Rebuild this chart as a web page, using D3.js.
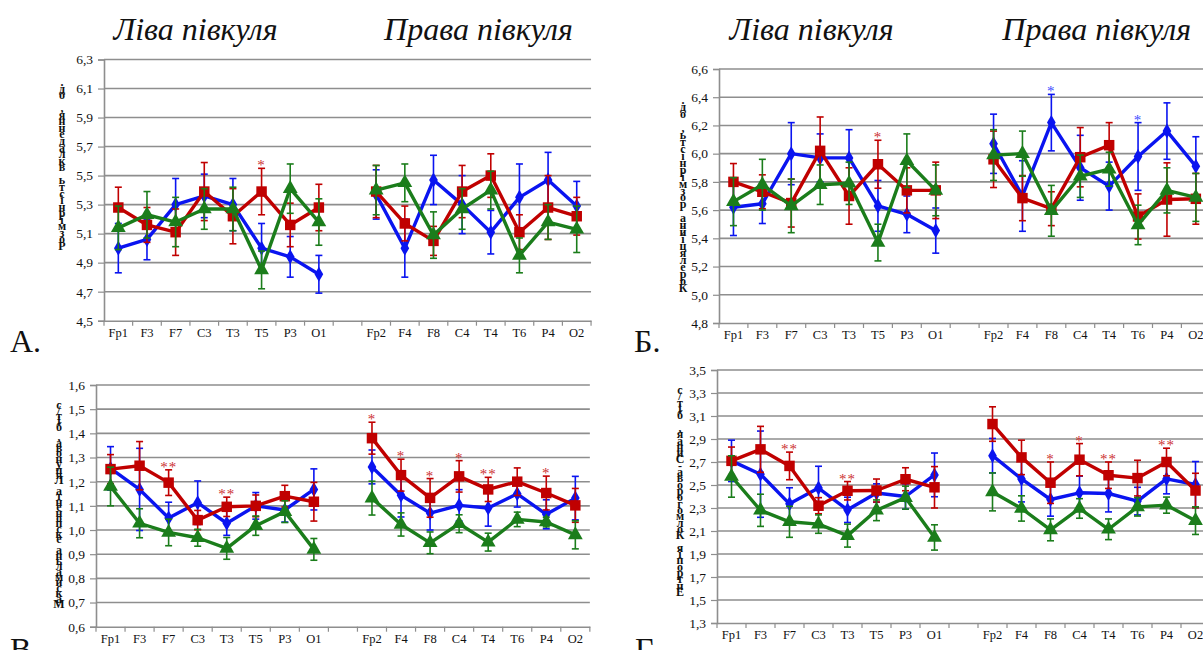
<!DOCTYPE html>
<html>
<head>
<meta charset="utf-8">
<script src="https://cdn.jsdelivr.net/npm/d3@7"></script>
<style>
  body { margin: 0; background: #fff; }
  svg { display: block; }
  text { font-family: "Liberation Serif", "Times New Roman", "DejaVu Serif", serif; }
</style>
</head>
<body>
<div id="chart"></div>
<script>
(function() {
  var width = 1203,
      height = 650;

  // electrode leads, left hemisphere then right, one empty slot between them
  const leftLeads = ["Fp1", "F3", "F7", "C3", "T3", "T5", "P3", "O1"];
  const rightLeads = ["Fp2", "F4", "F8", "C4", "T4", "T6", "P4", "O2"];
  const slotLabels = leftLeads.concat([""], rightLeads);

  const hemiTitles = ["Ліва півкуля", "Права півкуля"];

  // A. embedding dimension
  const aBlue = [5.00, 5.06, 5.30, 5.36, 5.30, 5.00, 4.94, 4.82, 5.37, 5.00, 5.47, 5.30, 5.11, 5.35, 5.47, 5.29];
  const aBlueErr = [0.17, 0.14, 0.18, 0.15, 0.18, 0.17, 0.14, 0.13, 0.17, 0.20, 0.17, 0.20, 0.15, 0.23, 0.19, 0.17];
  const aRed = [5.28, 5.16, 5.11, 5.39, 5.22, 5.39, 5.16, 5.28, 5.39, 5.17, 5.05, 5.39, 5.50, 5.11, 5.28, 5.22];
  const aRedErr = [0.14, 0.12, 0.16, 0.20, 0.19, 0.16, 0.15, 0.16, 0.18, 0.12, 0.10, 0.18, 0.15, 0.12, 0.22, 0.13];
  const aGreen = [5.14, 5.23, 5.18, 5.27, 5.27, 4.85, 5.41, 5.18, 5.40, 5.45, 5.09, 5.27, 5.40, 4.95, 5.18, 5.13];
  const aGreenErr = [0.15, 0.16, 0.17, 0.14, 0.15, 0.13, 0.17, 0.16, 0.17, 0.13, 0.16, 0.14, 0.13, 0.12, 0.12, 0.16];
  const aStars = [{i: 5, s: "*", series: "red"}];

  // Б. correlation dimension
  const bBlue = [5.62, 5.645, 6.00, 5.97, 5.97, 5.63, 5.57, 5.455, 6.07, 5.70, 6.22, 5.90, 5.77, 5.98, 6.16, 5.91];
  const bBlueErr = [0.20, 0.14, 0.22, 0.17, 0.20, 0.18, 0.13, 0.16, 0.21, 0.25, 0.20, 0.23, 0.17, 0.24, 0.20, 0.21];
  const bRed = [5.80, 5.73, 5.65, 6.02, 5.70, 5.925, 5.74, 5.74, 5.96, 5.685, 5.61, 5.975, 6.06, 5.555, 5.675, 5.68];
  const bRedErr = [0.13, 0.12, 0.17, 0.24, 0.20, 0.17, 0.16, 0.20, 0.20, 0.16, 0.12, 0.21, 0.16, 0.16, 0.26, 0.18];
  const bGreen = [5.66, 5.78, 5.63, 5.78, 5.79, 5.37, 5.95, 5.74, 5.99, 6.00, 5.595, 5.84, 5.89, 5.495, 5.74, 5.69];
  const bGreenErr = [0.17, 0.18, 0.19, 0.14, 0.15, 0.13, 0.19, 0.18, 0.18, 0.16, 0.18, 0.15, 0.12, 0.14, 0.16, 0.17];
  const bStars = [{i: 5, s: "*", series: "red"}, {i: 10, s: "*", series: "blue"}, {i: 13, s: "*", series: "blue"}];

  // В. max Lyapunov exponent
  const cBlue = [1.255, 1.168, 1.05, 1.113, 1.028, 1.10, 1.083, 1.168, 1.261, 1.144, 1.07, 1.102, 1.091, 1.15, 1.065, 1.132];
  const cBlueErr = [0.09, 0.17, 0.065, 0.09, 0.05, 0.055, 0.05, 0.085, 0.07, 0.09, 0.07, 0.065, 0.075, 0.055, 0.06, 0.09];
  const cRed = [1.252, 1.266, 1.196, 1.041, 1.096, 1.10, 1.14, 1.117, 1.38, 1.227, 1.133, 1.222, 1.168, 1.20, 1.153, 1.102];
  const cRedErr = [0.06, 0.10, 0.053, 0.04, 0.04, 0.045, 0.045, 0.08, 0.066, 0.066, 0.08, 0.065, 0.05, 0.057, 0.07, 0.07];
  const cGreen = [1.18, 1.028, 0.99, 0.968, 0.924, 1.018, 1.076, 0.92, 1.132, 1.023, 0.947, 1.026, 0.95, 1.044, 1.033, 0.98];
  const cGreenErr = [0.08, 0.06, 0.055, 0.035, 0.045, 0.04, 0.045, 0.045, 0.07, 0.048, 0.045, 0.037, 0.037, 0.03, 0.02, 0.058];
  const cStars = [{i: 2, s: "**", series: "red"}, {i: 4, s: "**", series: "red"}, {i: 8, s: "*", series: "red"},
                  {i: 9, s: "*", series: "red"}, {i: 10, s: "*", series: "red"}, {i: 11, s: "*", series: "red"},
                  {i: 12, s: "**", series: "red"}, {i: 14, s: "*", series: "red"}];

  // Г. Kolmogorov-Sinai entropy
  const dBlue = [2.71, 2.594, 2.336, 2.473, 2.284, 2.43, 2.40, 2.588, 2.755, 2.553, 2.374, 2.432, 2.426, 2.36, 2.553, 2.504];
  const dBlueErr = [0.18, 0.375, 0.14, 0.19, 0.11, 0.08, 0.11, 0.19, 0.15, 0.20, 0.145, 0.145, 0.16, 0.12, 0.13, 0.20];
  const dRed = [2.71, 2.81, 2.666, 2.32, 2.45, 2.452, 2.55, 2.48, 3.03, 2.74, 2.52, 2.72, 2.585, 2.56, 2.70, 2.452];
  const dRedErr = [0.12, 0.20, 0.12, 0.07, 0.08, 0.10, 0.10, 0.18, 0.15, 0.15, 0.18, 0.14, 0.115, 0.155, 0.12, 0.15];
  const dGreen = [2.574, 2.28, 2.18, 2.16, 2.06, 2.28, 2.39, 2.044, 2.44, 2.296, 2.11, 2.296, 2.115, 2.31, 2.325, 2.19];
  const dGreenErr = [0.18, 0.14, 0.135, 0.08, 0.10, 0.09, 0.10, 0.11, 0.165, 0.11, 0.095, 0.085, 0.09, 0.08, 0.07, 0.12];
  const dStars = [{i: 2, s: "**", series: "red"}, {i: 4, s: "**", series: "red"}, {i: 10, s: "*", series: "red"},
                  {i: 11, s: "*", series: "red"}, {i: 12, s: "**", series: "red"}, {i: 14, s: "**", series: "red"}];

  const colors = {blue: "#0a14f0", red: "#c00000", green: "#1b7d1b"};
  const starColors = {blue: "#3c4cff", red: "#cc3030"};
  const symbols = {blue: d3.symbolDiamond, red: d3.symbolSquare, green: d3.symbolTriangle};
  const symbolSize = {blue: 65, red: 110, green: 95};
  const titleShift = [-23, 2];
  const serif = "'Liberation Serif', 'Times New Roman', serif";

  var svg = d3.select("#chart").append("svg")
      .attr("width", width)
      .attr("height", height);

  const panels = [
    {letter: "А.", letterX: 10, letterY: 352, left: 104, step: 28.65, top: 59.5, bottom: 320.7, domain: [4.5, 6.3], tick: 0.2,
     label: "Розмірність вкладення, од.", labelX: 62, labelTop: 86, labelBottom: 250, titleY: 40,
     series: {blue: [aBlue, aBlueErr], red: [aRed, aRedErr], green: [aGreen, aGreenErr]}, stars: aStars},
    {letter: "Б.", letterX: 634, letterY: 352, left: 719, step: 28.9, top: 69, bottom: 323, domain: [4.8, 6.6], tick: 0.2,
     label: "Кореляційна розмірність, од.", labelX: 683, labelTop: 104, labelBottom: 292, titleY: 40,
     series: {blue: [bBlue, bBlueErr], red: [bRed, bRedErr], green: [bGreen, bGreenErr]}, stars: bStars},
    {letter: "В", letterX: 10, letterY: 660, left: 96, step: 29.05, top: 385, bottom: 626.7, domain: [0.6, 1.6], tick: 0.1,
     label: "Максимальна експонента Ляпунова, біт/с", labelX: 59, labelTop: 409, labelBottom: 608,
     series: {blue: [cBlue, cBlueErr], red: [cRed, cRedErr], green: [cGreen, cGreenErr]}, stars: cStars},
    {letter: "Г", letterX: 635, letterY: 660, left: 717, step: 29, top: 370, bottom: 623, domain: [1.3, 3.5], tick: 0.2,
     label: "Ентропія Колмогорова-Синая, біт/с", labelX: 680, labelTop: 394, labelBottom: 596,
     series: {blue: [dBlue, dBlueErr], red: [dRed, dRedErr], green: [dGreen, dGreenErr]}, stars: dStars}
  ];

  // map 16 values onto 17 slots (slot 8 is the gap)
  const slotOf = i => i < 8 ? i : i + 1;

  panels.forEach(p => {
    var g = svg.append("g");
    var nSlots = slotLabels.length;

    var x = d3.scaleBand()
        .domain(d3.range(nSlots))
        .range([p.left, p.left + nSlots * p.step]);

    var y = d3.scaleLinear()
        .domain(p.domain)
        .range([p.bottom, p.top]);

    var nTicks = Math.round((p.domain[1] - p.domain[0]) / p.tick);
    var ticks = d3.range(nTicks + 1).map(k => +(p.domain[0] + k * p.tick).toFixed(2));

    // gridlines
    g.append("g")
      .selectAll("line")
      .data(ticks.slice(1))
      .join("line")
        .attr("x1", x.range()[0])
        .attr("x2", x.range()[1])
        .attr("y1", d => y(d))
        .attr("y2", d => y(d))
        .attr("stroke", "#8e8e8e")
        .attr("stroke-width", 1.6);

    var yAxis = d3.axisLeft(y)
        .tickValues(ticks)
        .tickSize(6)
        .tickPadding(5)
        .tickFormat(d => d3.format(".1f")(d).replace(".", ","));

    g.append("g")
        .attr("transform", `translate(${p.left},0)`)
        .call(yAxis)
        .call(a => a.select(".domain").attr("stroke", "#8e8e8e").attr("stroke-width", 1.6))
        .call(a => a.selectAll(".tick line").attr("stroke", "#8e8e8e").attr("stroke-width", 1.2))
        .call(a => a.selectAll(".tick text")
          .style("font-family", serif)
          .attr("font-size", 13.5)
          .attr("fill", "#111"));

    var xAxis = d3.axisBottom(x)
        .tickSize(0)
        .tickPadding(7)
        .tickFormat(i => slotLabels[i]);

    g.append("g")
        .attr("transform", `translate(0,${p.bottom})`)
        .call(xAxis)
        .call(a => a.select(".domain").attr("stroke", "#8e8e8e").attr("stroke-width", 1.6))
        .call(a => a.selectAll(".tick text")
          .style("font-family", serif)
          .attr("font-size", 12.5)
          .attr("fill", "#111"));

    // slot boundary ticks
    g.append("g")
      .selectAll("line")
      .data(d3.range(nSlots + 1))
      .join("line")
        .attr("x1", k => x.range()[0] + k * x.step())
        .attr("x2", k => x.range()[0] + k * x.step())
        .attr("y1", p.bottom)
        .attr("y2", p.bottom + 5)
        .attr("stroke", "#8e8e8e")
        .attr("stroke-width", 1.2);

    // stacked vertical axis title, upright letters read bottom to top
    var chars = Array.from(p.label);
    var cy = d3.scaleLinear()
        .domain([0, chars.length - 1])
        .range([p.labelBottom, p.labelTop]);
    g.append("text")
        .attr("text-anchor", "middle")
        .attr("font-weight", "bold")
        .attr("font-size", 12)
        .attr("fill", "#111")
        .style("font-family", serif)
      .selectAll("tspan")
      .data(chars)
      .join("tspan")
        .attr("x", p.labelX)
        .attr("y", (d, i) => cy(i))
        .text(d => d);

    // hemisphere titles
    var groupCenters = [
      (x(0) + x(7) + x.bandwidth()) / 2,
      (x(9) + x(16) + x.bandwidth()) / 2
    ];
    if (p.titleY) {
      g.append("g")
        .selectAll("text")
        .data(hemiTitles)
        .join("text")
          .attr("x", (d, i) => groupCenters[i] + titleShift[i])
          .attr("y", p.titleY)
          .attr("text-anchor", "middle")
          .attr("font-style", "italic")
          .attr("font-size", 32)
          .attr("fill", "#111")
          .style("font-family", serif)
          .text(d => d);
    }

    // panel letter
    g.append("text")
        .attr("x", p.letterX)
        .attr("y", p.letterY)
        .attr("font-size", 32)
        .attr("fill", "#111")
        .style("font-family", serif)
        .text(p.letter);

    var cx = i => x(slotOf(i)) + x.bandwidth() / 2;

    var line = d3.line()
        .x(d => cx(d.i))
        .y(d => y(d.v));

    ["blue", "red", "green"].forEach(name => {
      var vals = p.series[name][0],
          errs = p.series[name][1];
      var pts = vals.map((v, i) => ({i: i, v: v, e: errs[i]}));
      var col = colors[name];
      var sg = g.append("g");

      // error bars
      var eb = sg.append("g")
        .selectAll("g")
        .data(pts)
        .join("g")
          .attr("stroke", col)
          .attr("stroke-width", 1.6);
      eb.append("line")
          .attr("x1", d => cx(d.i)).attr("x2", d => cx(d.i))
          .attr("y1", d => y(d.v - d.e)).attr("y2", d => y(d.v + d.e));
      eb.append("line")
          .attr("x1", d => cx(d.i) - 3.5).attr("x2", d => cx(d.i) + 3.5)
          .attr("y1", d => y(d.v + d.e)).attr("y2", d => y(d.v + d.e));
      eb.append("line")
          .attr("x1", d => cx(d.i) - 3.5).attr("x2", d => cx(d.i) + 3.5)
          .attr("y1", d => y(d.v - d.e)).attr("y2", d => y(d.v - d.e));

      // two separate lines, one per hemisphere
      sg.append("g")
        .selectAll("path")
        .data([pts.slice(0, 8), pts.slice(8)])
        .join("path")
          .attr("d", line)
          .attr("fill", "none")
          .attr("stroke", col)
          .attr("stroke-width", 3.4)
          .attr("stroke-linejoin", "round");

      sg.append("g")
        .selectAll("path")
        .data(pts)
        .join("path")
          .attr("transform", d => `translate(${cx(d.i)},${y(d.v)})`)
          .attr("d", d3.symbol().type(symbols[name]).size(symbolSize[name]))
          .attr("fill", col);
    });

    // significance markers
    g.append("g")
      .selectAll("text")
      .data(p.stars)
      .join("text")
        .attr("x", d => cx(d.i))
        .attr("y", d => y(p.series[d.series][0][d.i] + p.series[d.series][1][d.i]) + 2)
        .attr("text-anchor", "middle")
        .attr("font-size", 15)
        .attr("letter-spacing", 1)
        .attr("fill", d => starColors[d.series])
        .style("font-family", serif)
        .text(d => d.s);
  });
})();
</script>
</body>
</html>
